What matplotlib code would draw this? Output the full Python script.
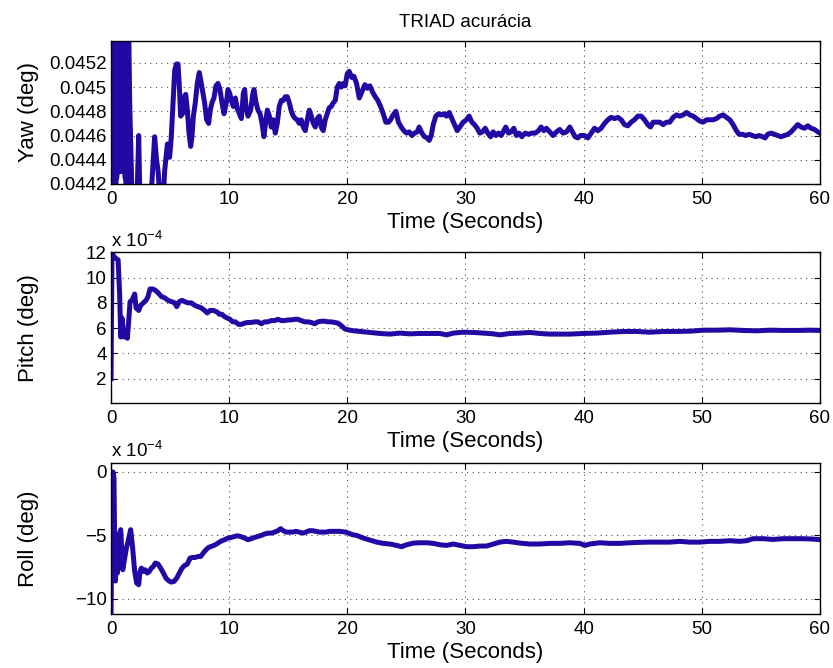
#!/usr/bin/env python3
"""TRIAD accuracy: yaw / pitch / roll error over 60 s (MATLAB-style three-panel figure)."""

import matplotlib

matplotlib.use("Agg")
import matplotlib.pyplot as plt

LINE_BLUE = "#2408a4"
GRID_GRAY = "#555555"

# ---------------------------------------------------------------------------
# data (time in s)
# ---------------------------------------------------------------------------

# yaw in degrees
YAW_T = [
    0.00, 0.04, 0.08, 0.12, 0.16, 0.20, 0.24, 0.28, 0.32, 0.36, 0.40, 0.44, 0.48,
    0.52, 0.56, 0.60, 0.64, 0.68, 0.72, 0.76, 0.80, 0.84, 0.88, 0.92, 0.96, 1.00,
    1.04, 1.08, 1.12, 1.16, 1.20, 1.24, 1.28, 1.32, 1.36, 1.40, 1.44, 1.48,
    1.58, 1.80, 2.05, 2.20, 2.34, 2.46, 2.70, 3.00, 3.15, 3.45, 3.69, 3.85, 3.98,
    4.20, 4.40, 4.54, 4.77, 4.96, 5.10, 5.25, 5.39, 5.53, 5.67, 5.78, 5.89, 6.06,
    6.18, 6.32, 6.46, 6.60, 6.74, 6.85, 6.97, 7.13, 7.30, 7.47, 7.64, 7.78, 7.92,
    8.09, 8.26, 8.40, 8.54, 8.71, 8.88, 9.05, 9.22, 9.39, 9.56, 9.76, 9.90, 10.04,
    10.18, 10.35, 10.52, 10.69, 10.86, 11.03, 11.20, 11.31, 11.42, 11.59, 11.82,
    11.99, 12.10, 12.27, 12.44, 12.61, 12.78, 12.94, 13.11, 13.23, 13.40, 13.56,
    13.73, 13.90, 14.07, 14.24, 14.41, 14.58, 14.75, 14.92, 15.09, 15.26, 15.43,
    15.59, 15.76, 15.93, 16.10, 16.27, 16.44, 16.61, 16.78, 16.95, 17.12, 17.29,
    17.46, 17.63, 17.79, 17.96, 18.13, 18.30, 18.47, 18.64, 18.81, 18.98, 19.15,
    19.32, 19.49, 19.66, 19.82, 19.99,
    20.16, 20.36, 20.55, 20.78, 21.01, 21.23, 21.49, 21.68, 21.91, 22.13, 22.36,
    22.58, 22.81, 23.04, 23.26, 23.49, 23.66, 23.88, 24.11, 24.33, 24.56, 24.78,
    25.01, 25.24, 25.46, 25.69, 25.91, 26.08, 26.31, 26.53, 26.76, 26.93, 27.10,
    27.27, 27.49, 27.72, 27.94, 28.17, 28.39, 28.62, 28.85, 29.07, 29.30, 29.52,
    29.80, 30.09, 30.31, 30.54, 30.76, 30.99, 31.21, 31.44, 31.67, 31.89, 32.12,
    32.34, 32.57, 32.79, 33.02, 33.24, 33.41, 33.64, 33.87, 34.09, 34.32, 34.54,
    34.77, 35.05, 35.33, 35.61, 35.90, 36.18, 36.40, 36.63, 36.85, 37.14, 37.42,
    37.70, 37.98, 38.26, 38.55, 38.83, 39.05, 39.28, 39.51, 39.73,
    40.07, 40.36, 40.64, 40.92, 41.20, 41.48, 41.77, 42.05, 42.33, 42.61, 42.89,
    43.18, 43.46, 43.74, 44.02, 44.30, 44.59, 44.87, 45.15, 45.43, 45.66, 45.88,
    46.17, 46.45, 46.73, 47.01, 47.29, 47.58, 47.86, 48.14, 48.42, 48.70, 48.99,
    49.27, 49.55, 49.83, 50.11, 50.40, 50.68, 50.96, 51.24, 51.52, 51.81, 52.09,
    52.37, 52.65, 52.93, 53.16, 53.44, 53.72, 54.00, 54.29, 54.57, 54.85, 55.13,
    55.36, 55.58, 55.87, 56.15, 56.43, 56.71, 56.99, 57.28, 57.56, 57.84, 58.12,
    58.41, 58.69, 58.97, 59.25, 59.54, 59.82, 60.00,
]
YAW_V = [
    0.04410, 0.04560, 0.04380, 0.04560, 0.04380, 0.04560, 0.04390, 0.04560, 0.04400,
    0.04560, 0.04410, 0.04560, 0.04425, 0.04560, 0.04430, 0.04560, 0.04432, 0.04560,
    0.04430, 0.04560, 0.04432, 0.04560, 0.04431, 0.04560, 0.04433, 0.04560, 0.04430,
    0.04560, 0.04432, 0.04560, 0.04425, 0.04560, 0.04400, 0.04560, 0.04380, 0.04560,
    0.04380, 0.04560,
    0.04487, 0.04400, 0.04405, 0.04410, 0.04460, 0.04400, 0.04405, 0.04408, 0.04412,
    0.04420, 0.04459, 0.04440, 0.04431, 0.04400, 0.04405, 0.04431, 0.04453, 0.04442,
    0.04459, 0.04487, 0.04514, 0.04519, 0.04519, 0.04501, 0.04476, 0.04478, 0.04492,
    0.04494, 0.04481, 0.04462, 0.04451, 0.04459, 0.04476, 0.04487, 0.04503, 0.04512,
    0.04503, 0.04495, 0.04487, 0.04473, 0.04470, 0.04481, 0.04487, 0.04491, 0.04501,
    0.04503, 0.04498, 0.04487, 0.04478, 0.04487, 0.04498, 0.04495, 0.04489, 0.04484,
    0.04491, 0.04482, 0.04478, 0.04474, 0.04495, 0.04498, 0.04484, 0.04476, 0.04481,
    0.04494, 0.04498, 0.04487, 0.04481, 0.04478, 0.04470, 0.04459, 0.04473, 0.04481,
    0.04476, 0.04467, 0.04473, 0.04462, 0.04470, 0.04484, 0.04489, 0.04489, 0.04492,
    0.04492, 0.04487, 0.04480, 0.04476, 0.04474, 0.04473, 0.04470, 0.04473, 0.04467,
    0.04464, 0.04473, 0.04481, 0.04476, 0.04470, 0.04467, 0.04474, 0.04476, 0.04467,
    0.04464, 0.04473, 0.04478, 0.04483, 0.04484, 0.04487, 0.04489, 0.04500, 0.04503,
    0.04500, 0.04503, 0.04501, 0.04511,
    0.04513, 0.04508, 0.04509, 0.04503, 0.04491, 0.04496, 0.04502, 0.04499, 0.04501,
    0.04496, 0.04492, 0.04489, 0.04484, 0.04478, 0.04471, 0.04471, 0.04473, 0.04477,
    0.04480, 0.04471, 0.04467, 0.04464, 0.04462, 0.04463, 0.04460, 0.04462, 0.04463,
    0.04467, 0.04462, 0.04459, 0.04458, 0.04456, 0.04460, 0.04469, 0.04476, 0.04478,
    0.04477, 0.04478, 0.04476, 0.04479, 0.04474, 0.04469, 0.04464, 0.04467, 0.04471,
    0.04473, 0.04476, 0.04471, 0.04469, 0.04466, 0.04462, 0.04463, 0.04466, 0.04462,
    0.04459, 0.04463, 0.04460, 0.04462, 0.04460, 0.04464, 0.04467, 0.04462, 0.04463,
    0.04466, 0.04460, 0.04462, 0.04459, 0.04462, 0.04461, 0.04462, 0.04462, 0.04464,
    0.04467, 0.04464, 0.04466, 0.04463, 0.04460, 0.04463, 0.04465, 0.04462, 0.04463,
    0.04467, 0.04463, 0.04459, 0.04458, 0.04460,
    0.04460, 0.04458, 0.04462, 0.04466, 0.04464, 0.04466, 0.04470, 0.04473, 0.04475,
    0.04474, 0.04475, 0.04473, 0.04469, 0.04468, 0.04471, 0.04473, 0.04476, 0.04476,
    0.04473, 0.04469, 0.04467, 0.04471, 0.04471, 0.04471, 0.04469, 0.04471, 0.04471,
    0.04475, 0.04477, 0.04476, 0.04477, 0.04479, 0.04477, 0.04476, 0.04474, 0.04472,
    0.04471, 0.04473, 0.04473, 0.04473, 0.04474, 0.04476, 0.04477, 0.04475, 0.04473,
    0.04469, 0.04464, 0.04461, 0.04461, 0.04460, 0.04461, 0.04460, 0.04459, 0.04460,
    0.04459, 0.04458, 0.04461, 0.04462, 0.04461, 0.04460, 0.04459, 0.04460, 0.04461,
    0.04463, 0.04466, 0.04469, 0.04467, 0.04466, 0.04468, 0.04466, 0.04465, 0.04463,
    0.04462,
]

# pitch in units of 1e-4 deg
PITCH_T = [
    0.00, 0.08, 0.17, 0.30, 0.45, 0.60, 0.73, 0.82, 0.93, 1.10, 1.21, 1.38, 1.49,
    1.61, 1.78, 2.00, 2.12, 2.34, 2.51, 2.74, 2.96, 3.13, 3.30, 3.52, 3.75, 3.98,
    4.26, 4.54, 4.82, 5.10, 5.39, 5.56, 5.78, 6.01, 6.23, 6.51, 6.80, 7.08, 7.36,
    7.64, 7.92, 8.15, 8.38, 8.66, 8.94, 9.17, 9.39, 9.62, 9.84, 10.07, 10.29,
    10.52, 10.80, 11.03, 11.31, 11.59, 11.87, 12.15, 12.44, 12.72, 13.00, 13.28,
    13.56, 13.85, 14.13, 14.41, 14.69, 14.97, 15.26, 15.54, 15.82, 16.10, 16.38,
    16.67, 16.95, 17.23, 17.51, 17.79, 18.08, 18.36, 18.64, 18.92, 19.20, 19.49,
    19.77, 20.05, 20.47, 21.07, 21.91, 22.76, 23.60, 24.45, 25.30, 26.14, 26.99,
    27.83, 28.40, 28.96, 29.81, 30.65, 31.50, 32.35, 32.91, 33.76, 34.60, 35.45,
    36.29, 37.14, 37.99, 38.83, 39.96, 41.09, 42.22, 43.34, 44.47, 45.60, 46.73,
    47.86, 48.98, 50.11, 51.24, 52.37, 53.50, 54.63, 55.75, 56.88, 58.01, 59.14,
    60.00,
]
PITCH_V = [
    2.0, 11.9, 11.8, 11.6, 11.5, 11.4, 8.6, 5.3, 6.8, 5.3, 5.6, 5.2, 6.5,
    8.1, 8.2, 8.7, 7.6, 7.4, 7.8, 8.0, 8.2, 8.5, 9.1, 9.1, 9.0, 8.8,
    8.5, 8.4, 8.2, 8.1, 8.0, 7.7, 8.1, 8.2, 8.1, 8.0, 8.0, 7.8, 7.7,
    7.6, 7.4, 7.2, 7.4, 7.4, 7.3, 7.1, 7.1, 6.9, 6.8, 6.7, 6.5,
    6.5, 6.3, 6.3, 6.4, 6.45, 6.45, 6.5, 6.5, 6.35, 6.5, 6.5,
    6.6, 6.6, 6.7, 6.6, 6.6, 6.65, 6.65, 6.7, 6.7, 6.6, 6.5,
    6.5, 6.45, 6.35, 6.5, 6.55, 6.55, 6.5, 6.5, 6.45, 6.4, 6.2,
    5.95, 5.87, 5.8, 5.74, 5.66, 5.58, 5.53, 5.61, 5.55, 5.58, 5.58,
    5.58, 5.47, 5.61, 5.68, 5.66, 5.61, 5.55, 5.47, 5.58, 5.61, 5.66,
    5.58, 5.53, 5.53, 5.53, 5.58, 5.61, 5.68, 5.74, 5.74, 5.68, 5.74,
    5.74, 5.76, 5.84, 5.84, 5.87, 5.82, 5.79, 5.84, 5.82, 5.82, 5.84,
    5.82,
]

# roll in units of 1e-4 deg
ROLL_T = [
    0.00, 0.10, 0.17, 0.25, 0.31, 0.37, 0.45, 0.54, 0.68, 0.82, 0.99, 1.16, 1.30,
    1.44, 1.66, 1.83, 2.00, 2.17, 2.34, 2.45, 2.57, 2.74, 2.90, 3.07, 3.24, 3.41,
    3.58, 3.75, 3.98, 4.20, 4.43, 4.65, 4.88, 5.10, 5.33, 5.56, 5.78, 6.01, 6.23,
    6.46, 6.68, 6.91, 7.13, 7.36, 7.59, 7.81, 8.04, 8.26, 8.49, 8.71, 8.94, 9.17,
    9.39, 9.62, 9.90, 10.18, 10.46, 10.74, 11.03, 11.31, 11.59, 11.87, 12.15,
    12.44, 12.72, 13.00, 13.28, 13.56, 13.85, 14.13, 14.35, 14.58, 14.81, 15.09,
    15.37, 15.65, 15.93, 16.22, 16.50, 16.78, 17.06, 17.34, 17.63, 17.91, 18.19,
    18.47, 18.75, 19.04, 19.32, 19.60, 19.88, 20.16, 20.45, 20.78, 21.35, 21.91,
    22.48, 23.04, 23.60, 24.17, 24.59, 25.01, 25.58, 26.14, 26.71, 27.27, 27.83,
    28.40, 28.96, 29.53, 30.09, 30.65, 31.22, 31.78, 32.35, 32.91, 33.47, 34.04,
    34.60, 35.45, 36.29, 37.14, 37.99, 38.83, 39.68, 40.10, 40.52, 41.37, 42.22,
    43.06, 43.91, 44.75, 45.60, 46.45, 47.29, 48.14, 48.98, 49.83, 50.68, 51.52,
    52.37, 53.21, 53.78, 54.34, 55.19, 56.04, 56.88, 57.73, 58.57, 59.42, 60.00,
]
ROLL_V = [
    -11.3, -1.0, 0.0, -0.5, -6.0, -8.6, -6.5, -7.97, -4.95, -4.55, -7.71, -6.79, -6.0,
    -5.47, -4.55, -6.0, -7.84, -8.76, -8.89, -7.84, -7.58, -7.84, -7.71, -7.97, -7.84, -7.58,
    -7.45, -7.18, -7.26, -7.58, -7.97, -8.37, -8.58, -8.68, -8.63, -8.37, -7.97, -7.58, -7.37,
    -7.26, -6.79, -6.74, -6.74, -6.66, -6.66, -6.39, -6.13, -5.95, -5.87, -5.79, -5.68, -5.53,
    -5.42, -5.34, -5.21, -5.16, -5.08, -5.03, -5.11, -5.21, -5.34, -5.26, -5.16,
    -5.08, -5.00, -4.89, -4.82, -4.82, -4.74, -4.63, -4.47, -4.63, -4.74, -4.74,
    -4.74, -4.68, -4.74, -4.82, -4.74, -4.63, -4.63, -4.68, -4.74, -4.74, -4.74,
    -4.68, -4.68, -4.68, -4.68, -4.71, -4.74, -4.84, -4.95, -5.00, -5.21, -5.37,
    -5.53, -5.63, -5.68, -5.79, -5.89, -5.74, -5.61, -5.58, -5.58, -5.63, -5.74,
    -5.79, -5.68, -5.79, -5.89, -5.89, -5.84, -5.84, -5.68, -5.53, -5.47, -5.53,
    -5.61, -5.68, -5.68, -5.63, -5.63, -5.58, -5.63, -5.79, -5.68, -5.58, -5.63,
    -5.63, -5.58, -5.55, -5.53, -5.53, -5.53, -5.47, -5.53, -5.53, -5.47, -5.47,
    -5.42, -5.47, -5.42, -5.26, -5.26, -5.32, -5.26, -5.26, -5.26, -5.29, -5.34,
]

YAW_TICKS = [0.0442, 0.0444, 0.0446, 0.0448, 0.0450, 0.0452]
YAW_TICK_LABELS = ["0.0442", "0.0444", "0.0446", "0.0448", "0.045", "0.0452"]
PITCH_TICKS = [2, 4, 6, 8, 10, 12]
ROLL_TICKS = [-10, -5, 0]
TIME_TICKS = [0, 10, 20, 30, 40, 50, 60]

RC = {
    "font.family": ["Liberation Sans", "DejaVu Sans"],
    "font.size": 13.5,
    "axes.labelsize": 16,
    "xtick.labelsize": 13.5,
    "ytick.labelsize": 13.5,
    "axes.linewidth": 1.0,
    "xtick.direction": "in",
    "ytick.direction": "in",
    "xtick.top": True,
    "ytick.right": True,
    "xtick.major.size": 4,
    "ytick.major.size": 4,
    "xtick.major.pad": 5,
    "ytick.major.pad": 3,
    "mathtext.fontset": "custom",
    "mathtext.rm": "Liberation Sans",
    "mathtext.it": "Liberation Sans:italic",
}


def _style(ax, ylabel):
    ax.set_xlim(0, 60)
    ax.set_xticks(TIME_TICKS)
    ax.set_xlabel("Time (Seconds)", labelpad=3)
    ax.set_ylabel(ylabel)
    ax.yaxis.set_label_coords(-0.102, 0.5)
    ax.grid(True, linestyle=(0, (1, 4)), color=GRID_GRAY, linewidth=0.8)
    ax.set_axisbelow(True)


def _exponent(ax):
    ax.text(0.0, 1.01, r"x 10$^{-4}$", transform=ax.transAxes,
            ha="left", va="bottom", fontsize=13.5)


def main() -> None:
    with plt.rc_context(RC):
        fig = plt.figure(figsize=(8.33, 6.68), dpi=100)
        ax_yaw = fig.add_axes([0.1333, 0.7246, 0.851, 0.2145])
        ax_pitch = fig.add_axes([0.1333, 0.3967, 0.851, 0.2256])
        ax_roll = fig.add_axes([0.1333, 0.0808, 0.851, 0.2265])

        ax_yaw.plot(YAW_T, YAW_V, color=LINE_BLUE, linewidth=3.6)
        ax_yaw.set_ylim(0.0442, 0.045383)
        ax_yaw.set_yticks(YAW_TICKS, YAW_TICK_LABELS)
        _style(ax_yaw, "Yaw (deg)")
        ax_yaw.set_title("TRIAD acurácia", fontsize=13.5, pad=10)

        ax_pitch.plot(PITCH_T, PITCH_V, color=LINE_BLUE, linewidth=3.6)
        ax_pitch.set_ylim(0.08, 12)
        ax_pitch.set_yticks(PITCH_TICKS)
        _style(ax_pitch, "Pitch (deg)")
        _exponent(ax_pitch)

        ax_roll.plot(ROLL_T, ROLL_V, color=LINE_BLUE, linewidth=3.6)
        ax_roll.set_ylim(-11.2, 0.73)
        ax_roll.set_yticks(ROLL_TICKS)
        _style(ax_roll, "Roll (deg)")
        _exponent(ax_roll)

        fig.savefig("out.png", dpi=100)
        plt.close(fig)


if __name__ == "__main__":
    main()
